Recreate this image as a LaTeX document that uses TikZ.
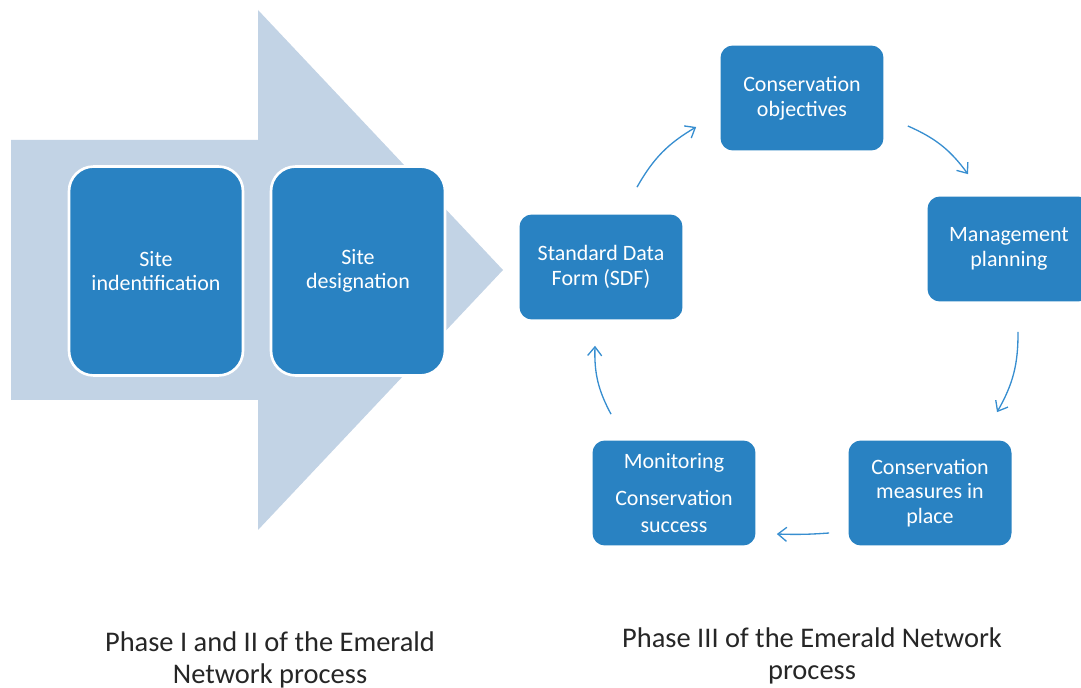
\documentclass[tikz,border=0pt]{standalone}
\usepackage{fontspec}
\setmainfont{Carlito}
\usetikzlibrary{arrows.meta,calc}

\definecolor{boxblue}{RGB}{41,130,194}
\definecolor{arrowgrey}{RGB}{194,211,229}
\definecolor{linkblue}{RGB}{55,142,208}
\definecolor{captiongrey}{RGB}{38,38,38}

\tikzset{
    phasebox/.style={fill=boxblue, rounded corners=7pt, text=white, align=center,
        minimum width=3.26cm, minimum height=2.1cm, inner sep=2pt,
        font=\fontsize{12.5}{14}\selectfont},
    sitebox/.style={phasebox, draw=white, line width=1.5pt, rounded corners=14pt,
        minimum width=3.48cm, minimum height=4.18cm},
    cyclearrow/.style={draw=linkblue, line width=0.75pt,
        -{Straight Barb[length=5pt,width=8pt]}},
    caption/.style={text=captiongrey, align=center,
        font=\fontsize{16.2}{18.6}\selectfont}
}

\begin{document}
\begin{tikzpicture}[x=0.02cm, y=-0.02cm]
    \useasboundingbox (0,0) rectangle (1081,688);
    \clip (0,0) rectangle (1081,688);

    % phase I and II: big arrow with the two site boxes
    \fill[arrowgrey] (11,140) -- (258,140) -- (258,10) -- (503,270)
        -- (258,530) -- (258,400) -- (11,400) -- cycle;
    \node[sitebox] (ident) at (156,271) {Site\\indentification};
    \node[sitebox] (desig) at (358,271) {Site\\designation};

    % phase III: the cycle
    \node[phasebox] (sdf) at (601,267) {Standard Data\\Form (SDF)};
    \node[phasebox] (objectives) at (802,98) {Conservation\\objectives};
    \node[phasebox] (planning) at (1009,249) {Management\\planning};
    \node[phasebox] (measures) at (930,493) {Conservation\\measures in\\place};
    \node[phasebox] (monitoring) at (674,493)
        {Monitoring\\[7pt]Conservation\\[1pt]success};

    \draw[cyclearrow] ($(sdf.north)+(36,-27)$)
        to[bend left=15] ($(objectives.west)+(-24,29)$);
    \draw[cyclearrow] ($(objectives.east)+(24,28)$)
        to[bend left=15] ($(planning.north)+(-41,-22)$);
    \draw[cyclearrow] ($(planning.south)+(9,30)$)
        to[bend left=15] ($(measures.north)+(67,-28)$);
    \draw[cyclearrow] ($(measures.west)+(-19,40)$)
        to[bend left=3] ($(monitoring.east)+(21,41)$);
    \draw[cyclearrow] ($(monitoring.north)+(-63,-26)$)
        to[bend left=15] ($(sdf.south)+(-6,26)$);

    % captions
    \node[caption] (phaseone) at (270,660) {Phase I and II of the Emerald\\Network process};
    \node[caption] (phasethree) at (812,656) {Phase III of the Emerald Network\\process};
\end{tikzpicture}
\end{document}
